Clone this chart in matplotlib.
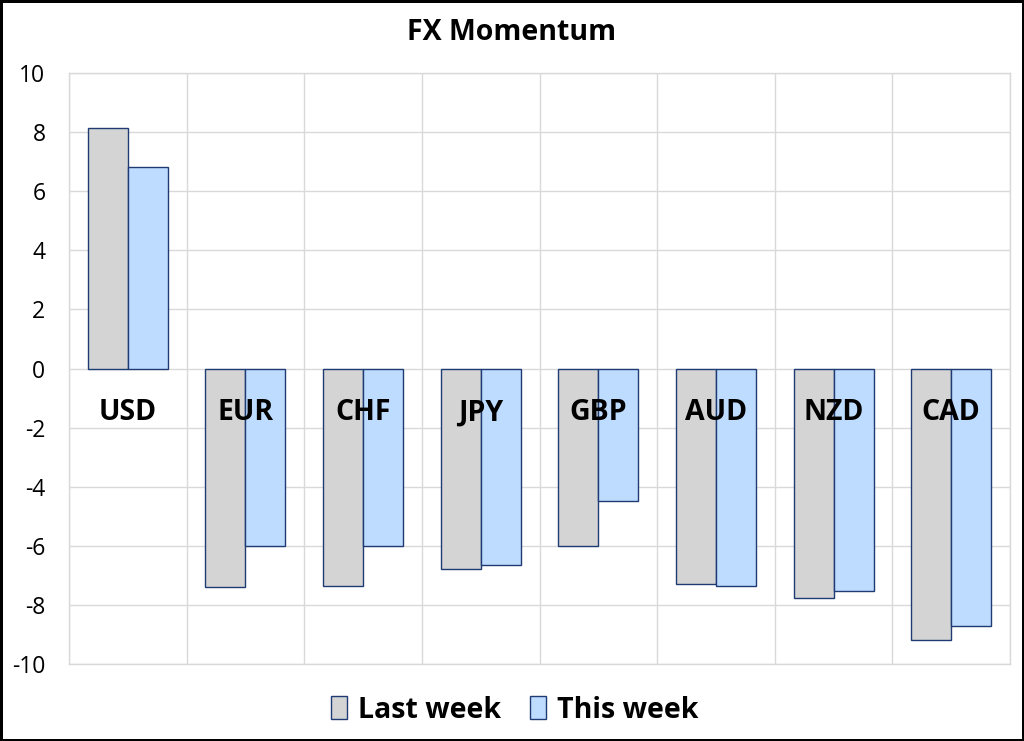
import matplotlib
matplotlib.use('Agg')
import matplotlib.pyplot as plt
import numpy as np

# Data
currencies = ['USD', 'EUR', 'CHF', 'JPY', 'GBP', 'AUD', 'NZD', 'CAD']
last_week = [8.15, -7.4, -7.37, -6.8, -6.0, -7.3, -7.78, -9.2]
this_week = [6.83, -6.0, -6.02, -6.66, -4.5, -7.37, -7.52, -8.72]
series_names = ['Last week', 'This week']

plt.rcParams['font.family'] = ['Open Sans', 'DejaVu Sans']
plt.rcParams['axes.unicode_minus'] = False

fig = plt.figure(figsize=(10.24, 7.41), dpi=100)
fig.patch.set_facecolor('white')
fig.patch.set_edgecolor('black')
fig.patch.set_linewidth(2.5)
ax = fig.add_axes([69 / 1024, 1 - 664 / 741, (1010 - 69) / 1024, (664 - 73) / 741])

x = np.arange(len(currencies))
w = 0.34
edge = '#1F3B73'
b1 = ax.bar(x - w / 2, last_week, w, color='#D4D4D4', edgecolor=edge, linewidth=1, label=series_names[0], zorder=3)
b2 = ax.bar(x + w / 2, this_week, w, color='#BDDCFF', edgecolor=edge, linewidth=1, label=series_names[1], zorder=3)

ax.set_xlim(-0.5, len(currencies) - 0.5)
ax.set_ylim(-10, 10)
ax.set_yticks(np.arange(-10, 11, 2))
ax.set_xticks(np.arange(-0.5, len(currencies), 1))
ax.set_xticklabels([])
ax.tick_params(axis='both', length=0, labelsize=16.5, pad=17)
ax.grid(True, color='#D9D9D9', linewidth=1, zorder=0)
for s in ax.spines.values():
    s.set_color('#D9D9D9')
    s.set_linewidth(1)

# category labels sit just under the zero line
for i, name in enumerate(currencies):
    ax.text(i, -1.5, name, ha='center', va='center', fontsize=20.5, fontweight='bold', zorder=4)

fig.text(512 / 1024, 1 - 33 / 741, 'FX Momentum', ha='center', va='center', fontsize=20.5, fontweight='bold')

fig.legend(handles=[b1, b2], loc='center', bbox_to_anchor=(515 / 1024, 1 - 710 / 741), ncol=2, frameon=False,
           prop={'size': 20.5, 'weight': 'bold'}, handlelength=0.55, handleheight=0.85, handletextpad=0.4,
           columnspacing=1.0)

fig.savefig('out.png', dpi=100, facecolor=fig.get_facecolor(), edgecolor=fig.get_edgecolor())
